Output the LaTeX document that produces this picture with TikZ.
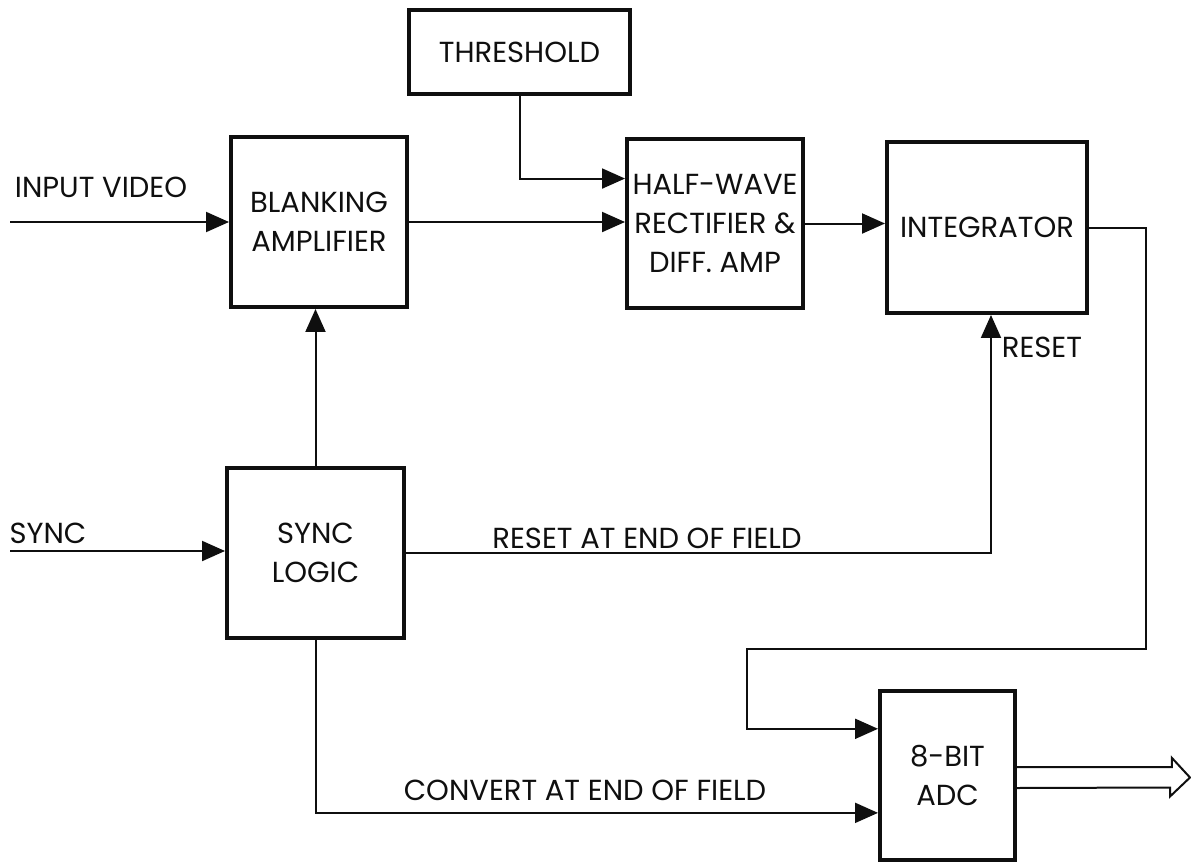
\documentclass[tikz,border=0pt]{standalone}
\usepackage{fontspec}
\setmainfont{Poppins}
\usepackage{tikz}
\usetikzlibrary{arrows.meta,positioning,calc}
\definecolor{InkBlack}{RGB}{15,15,15}

\begin{document}
\begin{tikzpicture}[
    x=0.02cm,y=-0.02cm,
    block/.style={draw=InkBlack, line width=0.08cm, align=center, inner sep=0pt, font=\fontsize{16.5}{22}\selectfont, text=InkBlack},
    sigtext/.style={font=\fontsize{16.5}{22}\selectfont, text=InkBlack, inner sep=0pt},
    arrow/.style={-{Triangle[length=0.46cm,width=0.40cm]}, line width=0.04cm, draw=InkBlack},
    busline/.style={draw=InkBlack, line width=0.04cm, line join=miter}
  ]
    \useasboundingbox (0,0) rectangle (1191,863);
    \node[block, minimum width=4.42cm, minimum height=1.68cm] (thr) at (519.5,52) {THRESHOLD};
    \node[block, minimum width=3.52cm, minimum height=3.40cm] (blank) at (319,222) {BLANKING\\AMPLIFIER};
    \node[block, minimum width=3.52cm, minimum height=3.38cm] (hw) at (715,223.5) {HALF-WAVE\\RECTIFIER \&\\DIFF. AMP};
    \node[block, minimum width=4.00cm, minimum height=3.42cm] (intg) at (987,227.5) {INTEGRATOR};
    \node[block, minimum width=3.54cm, minimum height=3.40cm] (sync) at (315.5,553) {SYNC\\LOGIC};
    \node[block, minimum width=2.70cm, minimum height=3.38cm] (adc) at (947.5,775.5) {8-BIT\\ADC};
    \coordinate (vin) at (10,222);
    \coordinate (syncin) at (10,551);
    \coordinate (busend) at (1190,777.5);
    \coordinate (adcin) at ($(adc.north west)!0.23!(adc.south west)$);
    \coordinate (adcconv) at ($(adc.north west)!0.716!(adc.south west)$);
    \node[sigtext] (vinlab) at (101,187) {INPUT VIDEO};
    \node[sigtext] (synclab) at (48,533) {SYNC};
    \node[sigtext] (rstlab) at (647,538) {RESET AT END OF FIELD};
    \node[sigtext] (cnvlab) at (585,790) {CONVERT AT END OF FIELD};
    \node[sigtext] (rst) at (1042,347) {RESET};
    \draw[arrow] (vin) -- (vin -| blank.west);
    \draw[arrow] (syncin) -- (syncin -| sync.west);
    \draw[arrow] (blank.east) -- (blank.east -| hw.west);
    \draw[arrow] (thr.south) |- ($(hw.north west)!0.24!(hw.south west)$);
    \draw[arrow] (hw.east) -- (hw.east -| intg.west);
    \draw[arrow] (sync.north) -- (sync.north |- blank.south);
    \draw[arrow] (sync.east) -| ([xshift=0.08cm]intg.south);
    \draw[arrow] (sync.south) |- (adcconv);
    \draw[arrow] (intg.east) -| (1146,649) -| ([xshift=-2.62cm]adcin) -- (adcin);
    \draw[busline] ([yshift=0.21cm]adc.east |- busend) -- ++(155,0) -- ++(0,-9) -- (busend) -- ++(-20,19) -- ++(0,-9) -- ([yshift=-0.21cm]adc.east |- busend);
  \end{tikzpicture}
\end{document}
